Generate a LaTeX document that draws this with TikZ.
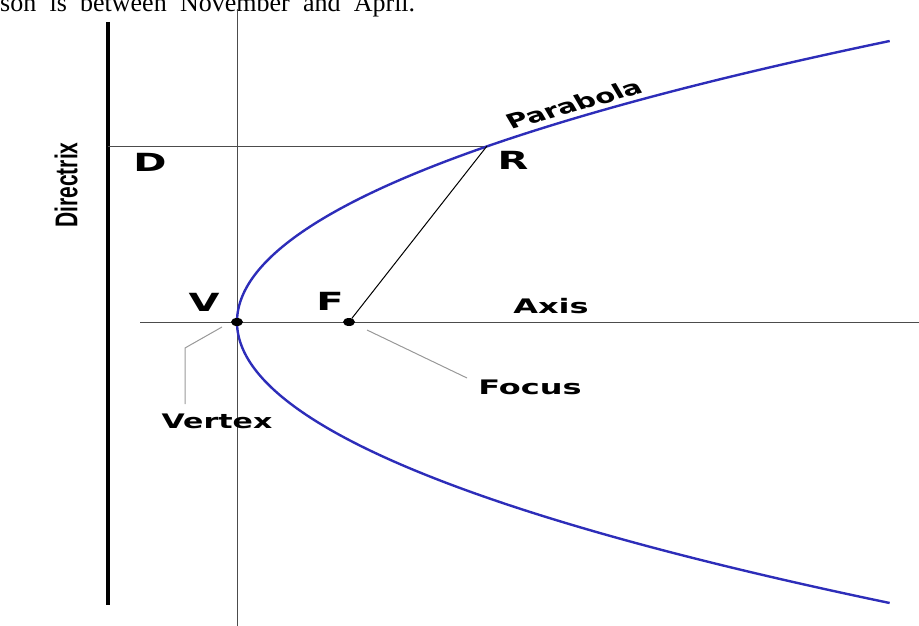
\documentclass[tikz,border=0pt]{standalone}
\usepackage{fontspec}
\setmainfont{Liberation Serif}
\newfontfamily\lblfont{DejaVu Sans}
\newfontfamily\dirfont{Liberation Sans}
\usetikzlibrary{shapes.geometric}
\definecolor{curveblue}{RGB}{45,45,185}
\begin{document}
\begin{tikzpicture}[x=1pt,y=-1pt,
  letter/.style={font=\lblfont\bfseries\fontsize{25}{28}\selectfont, inner sep=0pt},
  word/.style={font=\lblfont\bfseries\fontsize{20}{23}\selectfont, inner sep=0pt},
  dirlbl/.style={font=\dirfont\bfseries\fontsize{21}{24}\selectfont, inner sep=0pt},
  guide/.style={draw=black!70, line width=1pt},
  chord/.style={draw=black, line width=1pt},
  leader/.style={draw=black!40, line width=1pt},
  directrix/.style={draw=black, line width=4pt},
  curve/.style={draw=curveblue, line width=2.4pt},
  dot/.style={ellipse, fill=black, minimum width=12pt, minimum height=8pt, inner sep=0pt}
]
\useasboundingbox (0,0) rectangle (919,626);
\clip (0,0) rectangle (919,626);
% cut-off line of text at the top
\node[anchor=base west, inner sep=0pt, font=\fontsize{26}{30}\selectfont] (toptext) at (0,12)
  {\makebox[415pt][s]{son is between November and April.}};
% reference points
\coordinate (dirTop) at (108,22);
\coordinate (dirBot) at (108,605);
\coordinate (vTop) at (237,9);
\coordinate (vBot) at (237,626);
\coordinate (axL) at (140,322);
\coordinate (axR) at (919,322);
\coordinate (Dp) at (108,146);
\coordinate (R) at (487,146);
\coordinate (vl1) at (222,327);
\coordinate (vl2) at (185,348);
\coordinate (vl3) at (185,404);
\coordinate (fl1) at (367,330);
\coordinate (fl2) at (467,378);
% lines
\draw[directrix] (dirTop) -- (dirBot);
\draw[guide] (vTop) -- (vBot);
\draw[guide] (axL) -- (axR);
\draw[guide] (Dp) -- (R);
\draw[leader] (vl1) -- (vl2) -- (vl3);
\draw[leader] (fl1) -- (fl2);
% parabola
\draw[curve] plot[domain=-2.81:2.81, samples=120, smooth]
  ({237+80*\x*\x+0.337*\x*\x*\x*\x}, {322+100*\x});
% points
\node[dot] (V) at (237,322) {};
\node[dot] (F) at (349,322) {};
\draw[chord] (R) -- (F);
% labels
\node[letter] (Dl) at (150,162) {\scalebox{1.6}[1]{D}};
\node[letter] (Rl) at (513,160) {\scalebox{1.6}[1]{R}};
\node[letter] (Vl) at (204,302) {\scalebox{1.6}[1]{V}};
\node[letter] (Fl) at (330,301) {\scalebox{1.6}[1]{F}};
\node[word] (axis) at (551,306) {\scalebox{1.6}[1]{Axis}};
\node[word] (focus) at (530,387) {\scalebox{1.6}[1]{Focus}};
\node[word] (vertex) at (217,421) {\scalebox{1.5}[1]{Vertex}};
\node[word] (parab) at (574,104) {\scalebox{1.45}[1]{\rotatebox{22}{Parabola}}};
\node[dirlbl] (dirx) at (66,185) {\scalebox{1.5}[1]{\rotatebox{90}{Directrix}}};
\end{tikzpicture}
\end{document}
